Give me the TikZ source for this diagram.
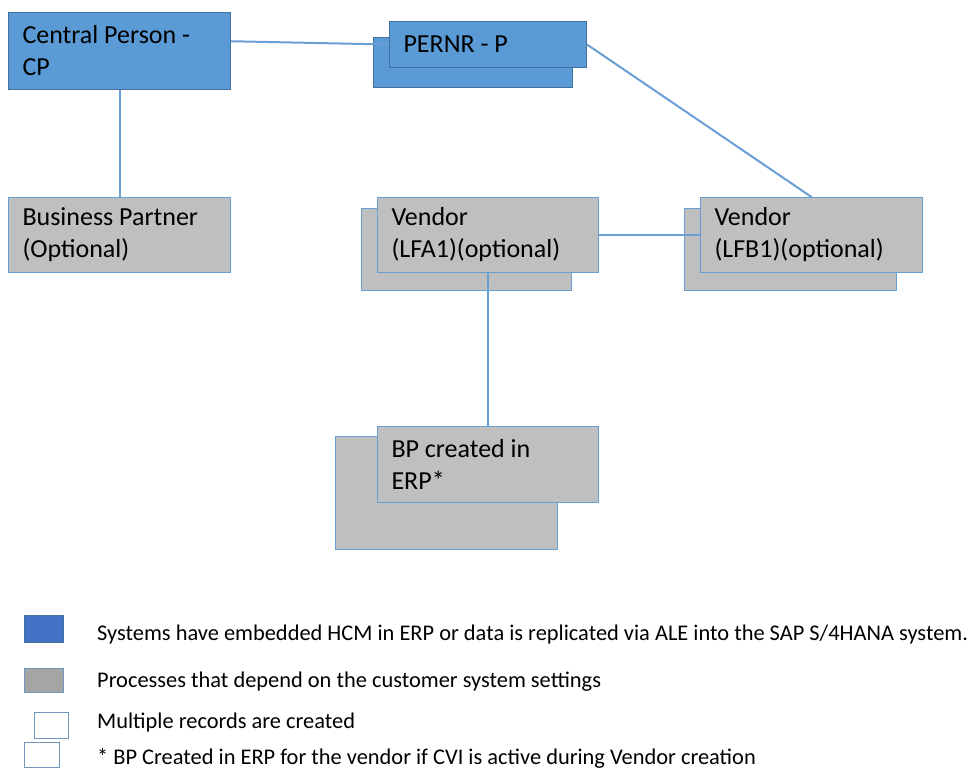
\documentclass[tikz,border=0pt]{standalone}
\usepackage{fontspec}
\setmainfont{Carlito}
\usetikzlibrary{positioning}
\definecolor{hcmblue}{HTML}{5B9BD5}
\definecolor{hcmedge}{HTML}{41719C}
\definecolor{procgrey}{HTML}{BFBFBF}
\definecolor{linkblue}{HTML}{6A9FD6}
\definecolor{legblue}{HTML}{4472C4}
\definecolor{leggrey}{HTML}{A5A5A5}
\tikzset{
  basic/.style  = {draw, rectangle, anchor=north west, inner xsep=14pt, inner ysep=0pt,
                   align=flush left, font=\fontsize{26}{32}\selectfont},
  hcm/.style    = {basic, fill=hcmblue, draw=hcmedge, line width=1pt},
  proc/.style   = {basic, fill=procgrey, draw=linkblue, line width=1pt},
  legbox/.style = {draw, rectangle, anchor=north west, inner sep=0pt, line width=1pt},
  legtext/.style = {anchor=base west, inner sep=0pt, font=\fontsize{22.4}{26}\selectfont},
  link/.style   = {draw=linkblue, line width=2pt}
}

\begin{document}
\begin{tikzpicture}[x=1pt,y=-1pt]
\useasboundingbox (0,0) rectangle (971,769);

% boxes lying behind (multiple records)
\node[hcm, minimum width=199pt, minimum height=50pt] (pnb) at (373,37) {};
\node[proc, minimum width=210pt, minimum height=82pt] (v1b) at (361,208) {};
\node[proc, minimum width=212pt, minimum height=82pt] (v2b) at (684,208) {};
\node[proc, minimum width=222pt, minimum height=113pt] (erpb) at (335,436) {};

% first level
\node[hcm, text width=194pt, minimum height=77pt] (cp) at (8,12) {Central Person -\\CP};
\node[hcm, text width=169pt, minimum height=46pt] (pn) at (389,21) {PERNR - P};

% second level
\node[proc, text width=194pt, minimum height=75pt] (bp) at (8,197) {Business Partner\\(Optional)};
\node[proc, text width=193pt, minimum height=75pt] (v1) at (377,197) {Vendor\\(LFA1)(optional)};
\node[proc, text width=194pt, minimum height=75pt] (v2) at (700,197) {Vendor\\(LFB1)(optional)};

% third level
\node[proc, text width=193pt, minimum height=76pt] (erp) at (377,426) {BP created in\\ERP*};

% connections
\draw[link] (cp.5) -- (pn.west);
\draw[link] (cp.south) -- (bp.north);
\draw[link] (pn.east) -- (v2.north);
\draw[link] (v1.east) -- (v2.west);
\draw[link] (v1.south) -- (erp.north);

% legend
\node[legbox, fill=legblue, draw=hcmedge, minimum width=39pt, minimum height=27pt] (lg1) at (24,615) {};
\node[legbox, fill=leggrey, draw=linkblue!70!gray, minimum width=39pt, minimum height=24pt] (lg2) at (24,668) {};
\node[legbox, fill=white, draw=linkblue!70!gray, minimum width=34pt, minimum height=26pt] (lg3) at (34,712) {};
\node[legbox, fill=white, draw=linkblue!70!gray, minimum width=35pt, minimum height=25pt] (lg4) at (24,742) {};

\node[legtext] (t1) at (97,640) {Systems have embedded HCM in ERP or data is replicated via ALE into the SAP S/4HANA system.};
\node[legtext] (t2) at (97,687) {Processes that depend on the customer system settings};
\node[legtext] (t3) at (97,728) {Multiple records are created};
\node[legtext] (t4) at (97,764) {* BP Created in ERP for the vendor if CVI is active during Vendor creation};
\end{tikzpicture}
\end{document}
